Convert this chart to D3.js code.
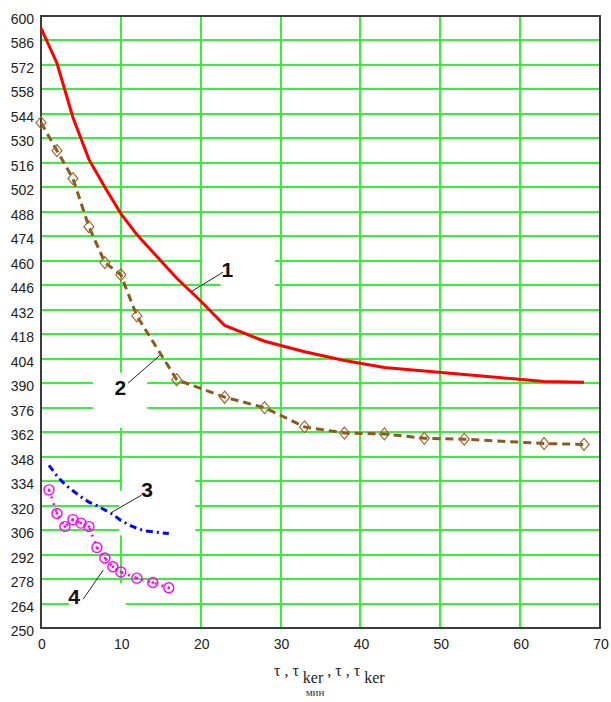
<!DOCTYPE html>
<html>
<head>
<meta charset="utf-8">
<script src="https://cdn.jsdelivr.net/npm/d3@7"></script>
<style>
  body { margin: 0; background: #fff; }
  svg { display: block; }
</style>
</head>
<body>
<div id="chart"></div>
<script>
// curve 1 (red, solid)
var t1 = [0, 2, 4, 6, 8, 10, 12, 14, 17, 20, 23, 28, 33, 38, 43, 48, 53, 58, 63, 68];
var T1 = [593, 573, 542, 518, 502, 487, 475, 465, 450, 437, 423, 414, 408, 403, 399, 397, 395, 393, 391, 390.5];

// curve 2 (brown dashed, diamonds)
var t2 = [0, 2, 4, 6, 8, 10, 12, 17, 23, 28, 33, 38, 43, 48, 53, 63, 68];
var T2 = [539, 523, 507, 479.5, 459, 452, 428.5, 392, 382, 376, 365, 361.5, 361, 358.5, 358, 355.5, 355];

// curve 3 (blue dash-dot)
var t3 = [1, 2, 3, 4, 5, 6, 7, 8, 9, 10, 11, 12, 13, 14, 15, 16];
var T3 = [343, 337, 332, 328.5, 325, 322, 320, 317.5, 315, 311.5, 309, 307, 305.5, 305, 304.5, 304];

// curve 4 (magenta dotted, circles)
var t4 = [1, 2, 3, 4, 5, 6, 7, 8, 9, 10, 12, 14, 16];
var T4 = [329, 315.5, 308, 312, 310, 308, 296, 290, 285, 282, 278.5, 276, 273];

var xTicks = [0, 10, 20, 30, 40, 50, 60, 70];
var yTicks = [250, 264, 278, 292, 306, 320, 334, 348, 362, 376, 390, 404, 418, 432,
              446, 460, 474, 488, 502, 516, 530, 544, 558, 572, 586, 600];

// curve labels: text anchor point and leader line, in data units
var notes = [
    { name: "1", x: 22.6, y: 450.6, from: [18.9, 442.6], to: [22.8, 453.5] },
    { name: "2", x: 9.2, y: 383.2, from: [10.9, 390.0], to: [14.9, 406] },
    { name: "3", x: 12.55, y: 324.9, from: [8.9, 316.3], to: [12.6, 326] },
    { name: "4", x: 3.4, y: 263.7, from: [5.3, 266.6], to: [7.8, 283.2] }
];
// white label boxes that hide the grid [x0, x1, y0, y1]
var boxes = [
    [22.5, 29.3, 441.5, 468], [20.2, 22.5, 452, 468],
    [6.5, 13.3, 364.5, 396],
    [10.15, 19.3, 303, 339], [9.8, 10.2, 303, 328.5],
    [3.5, 10.6, 250.5, 275.7]
];

var W = 611, H = 702;
var margin = { top: 16, right: 11, bottom: 74, left: 41 };

var x = d3.scaleLinear().domain([0, 70]).range([margin.left, W - margin.right]);
var y = d3.scaleLinear().domain([250, 600]).range([H - margin.bottom, margin.top]);

var svg = d3.select("#chart").append("svg")
    .attr("width", W)
    .attr("height", H)
    .style("font-family", "'Liberation Sans', Arial, sans-serif");

// grid
var grid = svg.append("g").attr("shape-rendering", "crispEdges");
grid.selectAll("line.h")
    .data(yTicks.slice(1, -1)).enter()
    .append("line")
    .attr("x1", x(0)).attr("x2", x(70))
    .attr("y1", d => y(d)).attr("y2", d => y(d))
    .attr("stroke", "#38f038").attr("stroke-width", 2);
grid.selectAll("line.v")
    .data(xTicks.slice(1, -1)).enter()
    .append("line")
    .attr("y1", y(250)).attr("y2", y(600))
    .attr("x1", d => x(d)).attr("x2", d => x(d))
    .attr("stroke", "#38f038").attr("stroke-width", 2);

// white label boxes
svg.append("g").selectAll("rect")
    .data(boxes).enter()
    .append("rect")
    .attr("x", d => x(d[0]))
    .attr("width", d => x(d[1]) - x(d[0]))
    .attr("y", d => y(d[3]))
    .attr("height", d => y(d[2]) - y(d[3]))
    .attr("fill", "#fff");

// frame
svg.append("rect")
    .attr("x", x(0)).attr("y", y(600))
    .attr("width", x(70) - x(0)).attr("height", y(250) - y(600))
    .attr("fill", "none").attr("stroke", "#3c3c3c").attr("stroke-width", 2);

// tick labels
svg.append("g").selectAll("text")
    .data(yTicks).enter()
    .append("text")
    .attr("x", 34)
    .attr("y", d => y(d) + 8)
    .attr("text-anchor", "end")
    .attr("font-size", 14)
    .attr("fill", "#222")
    .text(d => d);

svg.append("g").selectAll("text")
    .data(xTicks).enter()
    .append("text")
    .attr("x", d => x(d) + 1)
    .attr("y", 649)
    .attr("text-anchor", "middle")
    .attr("font-size", 14)
    .attr("fill", "#222")
    .text(d => d);

// axis title
var title = svg.append("text")
    .attr("x", 274).attr("y", 676)
    .style("font-family", "'Liberation Serif', 'Times New Roman', serif")
    .attr("font-size", 16)
    .attr("fill", "#222");
title.append("tspan").text("τ , τ ");
title.append("tspan").attr("dy", 7).text("ker");
title.append("tspan").attr("dy", -7).text(" , τ , τ ");
title.append("tspan").attr("dy", 7).text("ker");

svg.append("text")
    .attr("x", 315).attr("y", 696)
    .attr("text-anchor", "middle")
    .style("font-family", "'Liberation Serif', 'Times New Roman', serif")
    .attr("font-size", 11)
    .attr("fill", "#333")
    .text("мин");

var line = d3.line().x(d => x(d[0])).y(d => y(d[1]));
var zip = (a, b) => a.map((v, i) => [v, b[i]]);

// curve 1
svg.append("path")
    .datum(zip(t1, T1))
    .attr("d", line)
    .attr("fill", "none")
    .attr("stroke", "#ff0000")
    .attr("stroke-width", 3);

// curve 2
var c2 = zip(t2, T2);
svg.append("path")
    .datum(c2)
    .attr("d", line)
    .attr("fill", "none")
    .attr("stroke", "#8b5a1e")
    .attr("stroke-width", 3)
    .attr("stroke-dasharray", "8,5");
svg.append("g").selectAll("path")
    .data(c2).enter()
    .append("path")
    .attr("transform", d => `translate(${x(d[0])},${y(d[1])})`)
    .attr("d", "M0,-6L5,0L0,6L-5,0Z")
    .attr("fill", "none")
    .attr("stroke", "#a0662e")
    .attr("stroke-width", 1.2);

// curve 3
svg.append("path")
    .datum(zip(t3, T3))
    .attr("d", line)
    .attr("fill", "none")
    .attr("stroke", "#0000ff")
    .attr("stroke-width", 3)
    .attr("stroke-dasharray", "7,4,2,4");

// curve 4
var c4 = zip(t4, T4);
svg.append("path")
    .datum(c4)
    .attr("d", line)
    .attr("fill", "none")
    .attr("stroke", "#ff00ff")
    .attr("stroke-width", 2.5)
    .attr("stroke-dasharray", "2,5");
var m4 = svg.append("g").selectAll("g")
    .data(c4).enter()
    .append("g")
    .attr("transform", d => `translate(${x(d[0])},${y(d[1])})`);
m4.append("circle")
    .attr("r", 5)
    .attr("fill", "none")
    .attr("stroke", "#ff00ff")
    .attr("stroke-width", 1.4);
m4.append("circle")
    .attr("r", 1.4)
    .attr("fill", "#ff00ff");

// curve labels
var nt = svg.append("g");
nt.selectAll("line")
    .data(notes).enter()
    .append("line")
    .attr("x1", d => x(d.from[0])).attr("y1", d => y(d.from[1]))
    .attr("x2", d => x(d.to[0])).attr("y2", d => y(d.to[1]))
    .attr("stroke", "#222")
    .attr("stroke-width", 1);
nt.selectAll("text")
    .data(notes).enter()
    .append("text")
    .attr("x", d => x(d.x))
    .attr("y", d => y(d.y))
    .attr("font-size", 21)
    .attr("font-weight", "bold")
    .attr("fill", "#111")
    .text(d => d.name);
</script>
</body>
</html>
